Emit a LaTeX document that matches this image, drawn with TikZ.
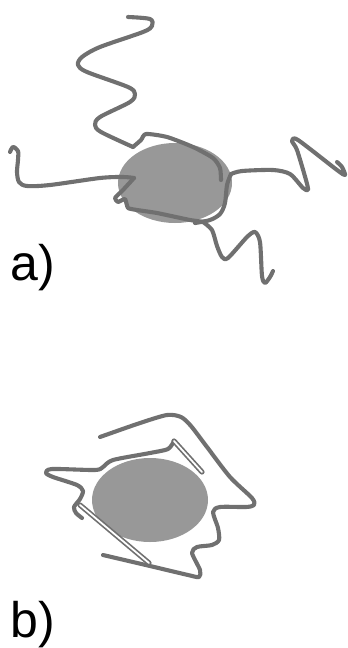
\documentclass[tikz,border=0pt]{standalone}
\usepackage{fontspec}
\setmainfont{Liberation Sans}
\usepackage{tikz}
\usetikzlibrary{positioning}

\definecolor{chaingray}{RGB}{112,112,112}
\definecolor{coregray}{RGB}{152,152,152}

\tikzset{
    chain/.style={draw=chaingray, line width=4.1pt, line cap=round, line join=round},
    tube/.style={draw=chaingray, line width=1.7pt, double=white, double distance=1.8pt, line cap=round},
    core/.style={fill=coregray, draw=none},
    panel/.style={font=\fontsize{50}{60}\selectfont, inner sep=0pt, anchor=base west}
}

\begin{document}
\begin{tikzpicture}[x=1pt, y=-1pt]
            \useasboundingbox (0,0) rectangle (348,648);

            % a) free particle with extended chains
            \fill[core] (175,183) ellipse (57 and 40);

            % chain at the top
            \draw[chain] plot[smooth, tension=0.5] coordinates {
                (128,17) (150,19) (152,26) (143,32) (100,47) (82,57) (78,65) (87,72)
                (128,87) (135,94) (130,102) (100,117) (95,125) (101,132) (133,147)};
            \draw[chain] plot[smooth, tension=0.4] coordinates {
                (133,147) (141,140) (146,134) (167,137) (193,147) (213,158) (220,168) (221,180)};

            % chain to the left
            \draw[chain] plot[smooth, tension=0.5] coordinates {
                (10,152) (13,147) (18,151) (18,160) (17,172) (19,182) (27,186) (50,185)
                (100,178) (123,177) (134,178)};
            \draw[chain] plot[smooth, tension=0.3] coordinates {
                (134,178) (123,190) (115,198) (118,202) (125,199) (128,208) (137,210)
                (157,213) (190,220) (205,222)};

            % right edge and chain to the right
            \draw[chain] plot[smooth, tension=0.5] coordinates {
                (231,174) (227,185) (225,203) (220,214) (210,220) (195,223)};
            \draw[chain] plot[smooth, tension=0.45] coordinates {
                (231,174) (242,171) (273,170) (290,174) (303,188) (308,190) (306,180)
                (297,150) (292,141) (298,140) (337,170) (345,175) (342,167) (337,162)};

            % chain at the bottom
            \draw[chain] plot[smooth, tension=0.45] coordinates {
                (203,222) (212,230) (217,246) (222,257) (228,258) (247,237) (255,232)
                (260,242) (262,276) (265,283) (270,277) (273,271)};

            \node[panel] (lbla) at (10,280) {a)};

            % b) particle with collapsed chains
            \fill[core] (150,500) ellipse (58 and 42);

            % outer wrapped chain
            \draw[chain] plot[smooth, tension=0.45] coordinates {
                (100,437) (140,423) (167,415) (181,417) (191,426) (207,447) (230,477)
                (252,498) (254,505) (246,507) (220,507) (213,512) (218,528) (219,540)
                (212,545) (197,547) (192,553) (200,570) (199,577) (188,575) (150,566)
                (103,555)};

            % inner wrapped chain
            \draw[chain] plot[smooth, tension=0.45] coordinates {
                (174,441) (168,449) (150,453) (113,460) (103,467) (95,470) (52,469)
                (46,473) (53,477) (77,485) (83,491) (80,499) (74,507) (76,513) (82,518)};

            % stretched segments
            \draw[tube] (80,505) -- (149,563);
            \draw[tube] (174,441) -- (202,472);

            \node[panel] (lblb) at (10,637) {b)};
        \end{tikzpicture}
\end{document}
